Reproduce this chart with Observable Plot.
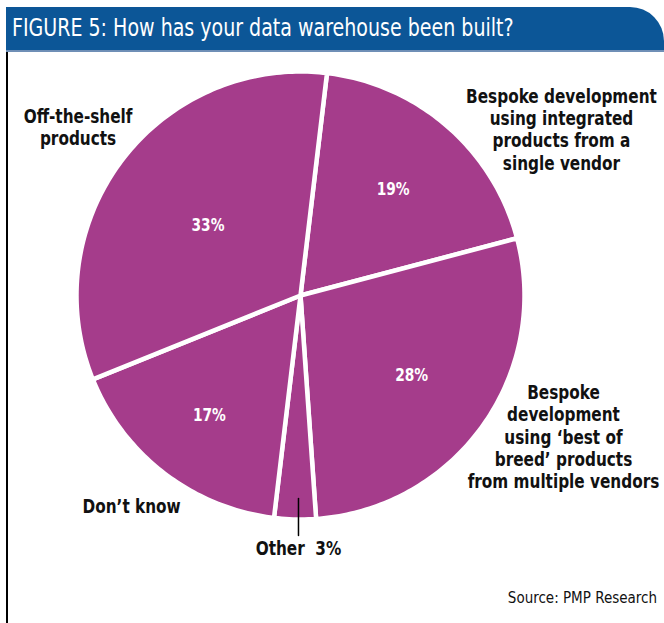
<!DOCTYPE html>
<html><head><meta charset="utf-8">
<script src="https://cdn.jsdelivr.net/npm/d3@7"></script>
<script src="https://cdn.jsdelivr.net/npm/@observablehq/plot@0.6"></script>
<style>
body{margin:0;background:#fff;}
#wrap{position:relative;width:664px;height:623px;overflow:hidden;font-family:"Liberation Sans Narrow","DejaVu Sans Condensed",sans-serif;}
#hdr{position:absolute;left:6px;top:7px;width:658px;height:43px;background:#0c5697;border-top-right-radius:34px;border-bottom:2px solid #6f8fb6;}
#title{position:absolute;left:12px;top:14px;color:#fff;font-size:25px;line-height:28px;white-space:nowrap;transform:scaleX(0.846);transform-origin:0 0;}
#rule{position:absolute;left:6px;top:52px;width:2px;height:571px;background:#000;}
#chart{position:absolute;left:0;top:52px;}
#src{position:absolute;right:7px;top:589px;font-size:15px;color:#111;white-space:nowrap;}
</style></head>
<body>
<div id="wrap">
  <div id="hdr"></div>
  <div id="title">FIGURE 5: How has your data warehouse been built?</div>
  <div id="rule"></div>
  <div id="chart"></div>
  <div id="src">Source: PMP Research</div>
</div>
<script>
// ---- data ----
const categories = [
  "Bespoke development\nusing integrated\nproducts from a\nsingle vendor",
  "Bespoke\ndevelopment\nusing ‘best of\nbreed’ products\nfrom multiple vendors",
  "Other",
  "Don’t know",
  "Off-the-shelf\nproducts"
];
const shares = [19, 28, 3, 17, 33];
const shareLabels = ["19%", "28%", "3%", "17%", "33%"];

// ---- layout (unit-circle coordinates, pie radius = 1) ----
const startDeg = 6.8;
const pctRadius = [0.63, 0.61, null, 0.67, 0.52];
const catLabelPos = [[1.165, 0.743], [1.174, -0.629], [-0.009, -1.125], [-0.754, -0.9375], [-0.993, 0.754]];
const leader = [[-0.009, -0.906], [-0.009, -1.071]];

const start = startDeg * Math.PI / 180;
const arcs = d3.pie().sort(null).startAngle(start).endAngle(start + 2 * Math.PI)(shares);
const pt = (a, r) => [r * Math.sin(a), r * Math.cos(a)];

const slices = arcs.map((a, i) => {
  const n = Math.max(4, Math.ceil((a.endAngle - a.startAngle) * 180 / Math.PI));
  const ring = [[0, 0]];
  for (let k = 0; k <= n; k++) ring.push(pt(a.startAngle + (a.endAngle - a.startAngle) * k / n, 1));
  ring.push([0, 0]);
  return {type: "Feature", properties: {name: categories[i]}, geometry: {type: "Polygon", coordinates: [ring]}};
});

const pctData = arcs.map((a, i) => {
  if (pctRadius[i] == null) return null;
  const [x, y] = pt((a.startAngle + a.endAngle) / 2, pctRadius[i]);
  return {x, y, text: shareLabels[i]};
}).filter(d => d);

const catData = categories.map((c, i) => ({
  x: catLabelPos[i][0], y: catLabelPos[i][1],
  text: i === 2 ? c + "  " + shareLabels[i] : c
}));

const chart = Plot.plot({
  width: 664, height: 571,
  marginLeft: 76, marginRight: 140, marginTop: 19, marginBottom: 104,
  projection: {type: "reflect-y", clip: false, domain: {type: "MultiPoint", coordinates: [[-1, -1], [1, 1]]}},
  style: {fontFamily: '"Liberation Sans Narrow","DejaVu Sans Condensed",sans-serif', background: "transparent", overflow: "visible"},
  marks: [
    Plot.geo(slices, {fill: "#a53c8b", stroke: "white", strokeWidth: 4.5}),
    Plot.line(leader, {x: d => d[0], y: d => d[1], stroke: "black", strokeWidth: 1.5}),
    Plot.text(pctData, {x: "x", y: "y", text: "text", fill: "white", fontWeight: "bold", fontSize: 18}),
    Plot.text(catData, {x: "x", y: "y", text: "text", fill: "#111", fontWeight: "bold", fontSize: 20, lineHeight: 1.12, lineAnchor: "middle", textAnchor: "middle"})
  ]
});
// condense glyphs horizontally (narrow face not installed)
chart.querySelectorAll('g[aria-label="text"] text').forEach(t => {
  const tr = t.getAttribute("transform") || "";
  t.setAttribute("transform", tr + " scale(0.85,1)");
});
document.getElementById("chart").appendChild(chart);
</script>
</body></html>
